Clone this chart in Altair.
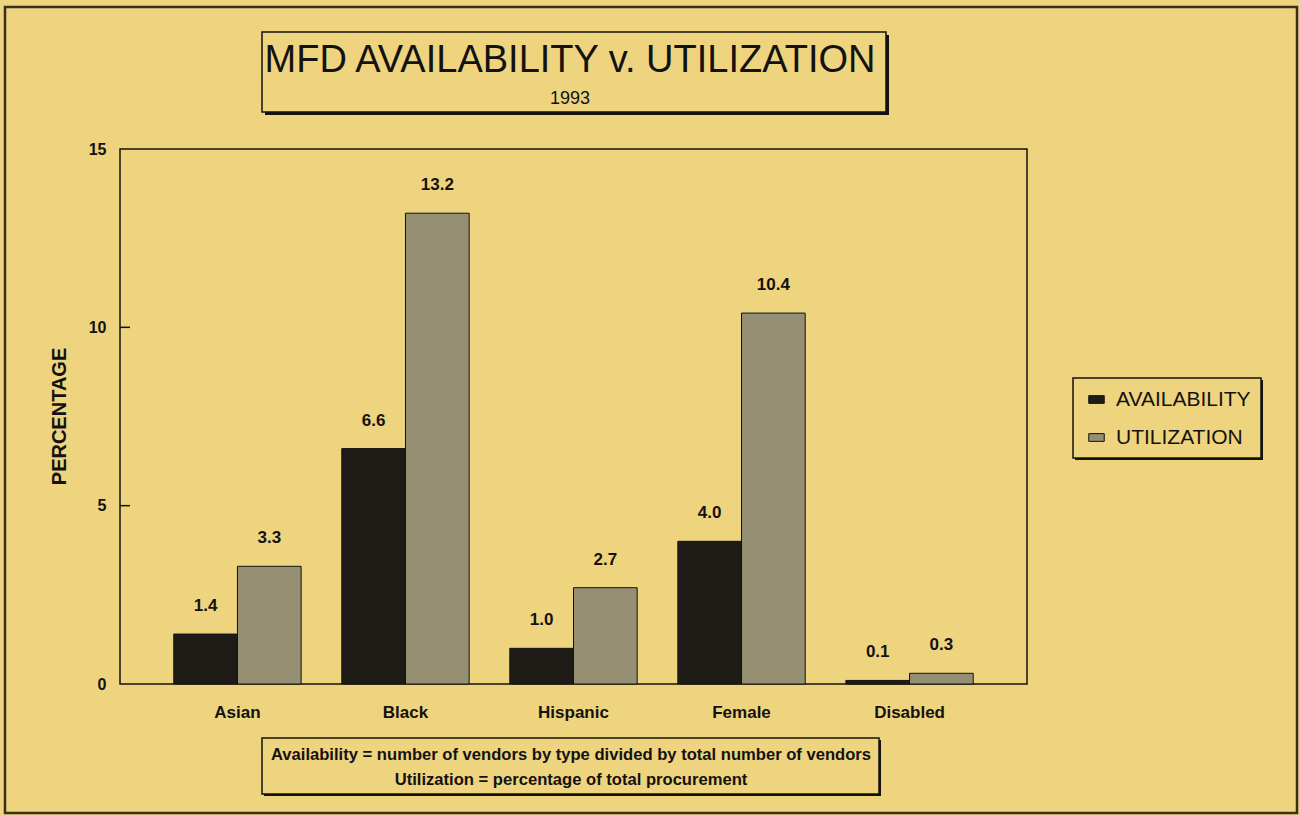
import altair as alt
import pandas as pd

# Group categories and the two series
groups = ["Asian", "Black", "Hispanic", "Female", "Disabled"]
availability = [1.4, 6.6, 1.0, 4.0, 0.1]
utilization = [3.3, 13.2, 2.7, 10.4, 0.3]
series_names = ["AVAILABILITY", "UTILIZATION"]
y_ticks = [0, 5, 10, 15]
inner_ticks = [5, 10]

title_text = "MFD AVAILABILITY v. UTILIZATION"
subtitle_text = "1993"
note_lines = [
    "Availability = number of vendors by type divided by total number of vendors",
    "Utilization = percentage of total procurement",
]

BG = "#eed47f"
INK = "#141210"
FONT = "Liberation Sans"

rows = []
for g, a, u in zip(groups, availability, utilization):
    rows.append({"group": g, "series": series_names[0], "value": a})
    rows.append({"group": g, "series": series_names[1], "value": u})
df = pd.DataFrame(rows)
one = pd.DataFrame({"k": [0]})

W, H = 907, 535

x_enc = alt.X(
    "group:N", sort=groups, title=None,
    scale=alt.Scale(paddingInner=0.242, paddingOuter=0.32),
    axis=alt.Axis(labelPadding=20, labelAngle=0, labelFontSize=17),
)
y_enc = alt.Y(
    "value:Q", title=None,
    scale=alt.Scale(domain=[0, 15], nice=False),
    axis=alt.Axis(values=y_ticks, labelPadding=14, grid=False),
)
color_enc = alt.Color(
    "series:N", title=None,
    scale=alt.Scale(domain=series_names, range=["#1f1c17", "#958f73"]),
    legend=alt.Legend(orient="none", legendX=966, legendY=240,
                      labelFont=FONT, labelFontSize=21, labelColor=INK,
                      symbolType="M-1,-0.5H1V0.5H-1Z", symbolSize=240,
                      symbolStrokeColor=INK, symbolStrokeWidth=1,
                      rowPadding=16, labelOffset=9, padding=0),
)

bars = alt.Chart(df).mark_bar(stroke=INK, strokeWidth=1).encode(
    x=x_enc,
    xOffset=alt.XOffset("series:N", sort=series_names),
    y=y_enc,
    color=color_enc,
)

values = alt.Chart(df).mark_text(
    font=FONT, fontWeight="bold", fontSize=17, color=INK,
    baseline="alphabetic", dy=-23,
).encode(
    x=alt.X("group:N", sort=groups),
    xOffset=alt.XOffset("series:N", sort=series_names),
    y="value:Q",
    text=alt.Text("value:Q", format=".1f"),
)

ticks_in = alt.Chart(pd.DataFrame({"t": inner_ticks})).mark_rule(
    color=INK, strokeWidth=1.5
).encode(y="t:Q", x=alt.value(0), x2=alt.value(10))

axis_title = alt.Chart(one).mark_text(
    text="PERCENTAGE", font=FONT, fontWeight="bold", fontSize=20,
    color=INK, angle=270,
).encode(x=alt.value(-60), y=alt.value(H / 2))


def framed_box(x0, y0, x1, y1, shadow=3):
    shade = alt.Chart(one).mark_rect(fill=INK).encode(
        x=alt.value(x0 + shadow), x2=alt.value(x1 + shadow),
        y=alt.value(y0 + shadow), y2=alt.value(y1 + shadow),
    )
    box = alt.Chart(one).mark_rect(fill=BG, stroke=INK, strokeWidth=1.5).encode(
        x=alt.value(x0), x2=alt.value(x1), y=alt.value(y0), y2=alt.value(y1),
    )
    return shade + box


outer = alt.Chart(one).mark_rect(filled=False, stroke="#3b2f1c", strokeWidth=2.5).encode(
    x=alt.value(-115), x2=alt.value(1177), y=alt.value(-142), y2=alt.value(664),
)

title_box = framed_box(142, -117, 766, -37)
title_mark = alt.Chart(one).mark_text(
    text=title_text, font=FONT, fontSize=38, color=INK, baseline="alphabetic",
).encode(x=alt.value(450), y=alt.value(-77))
subtitle_mark = alt.Chart(one).mark_text(
    text=subtitle_text, font=FONT, fontSize=18, color=INK,
    baseline="alphabetic",
).encode(x=alt.value(450), y=alt.value(-45))

legend_box = framed_box(953, 229, 1141, 309, shadow=2)

note_box = framed_box(142, 589, 759, 645, shadow=2)
note_l1 = alt.Chart(one).mark_text(
    text=note_lines[0], font=FONT, fontSize=16.6, fontWeight="bold", color=INK,
    baseline="middle",
).encode(x=alt.value(451), y=alt.value(606))
note_l2 = alt.Chart(one).mark_text(
    text=note_lines[1], font=FONT, fontSize=16.6, fontWeight="bold", color=INK,
    baseline="middle",
).encode(x=alt.value(451), y=alt.value(631))

chart = alt.layer(
    outer, title_box, title_mark, subtitle_mark, legend_box, note_box,
    note_l1, note_l2, bars, values, ticks_in, axis_title,
).properties(
    width=W, height=H,
    padding={"left": 120, "top": 149, "right": 273, "bottom": 132},
    autosize=alt.AutoSizeParams(type="none"),
    background=BG,
).configure_view(
    stroke=INK, strokeWidth=1.5
).configure_axis(
    labelFont=FONT, labelFontWeight="bold", labelFontSize=16, labelColor=INK,
    ticks=False, domain=False, zindex=2,
)

chart.save("out.html", embed_options={"renderer": "svg", "actions": False})
